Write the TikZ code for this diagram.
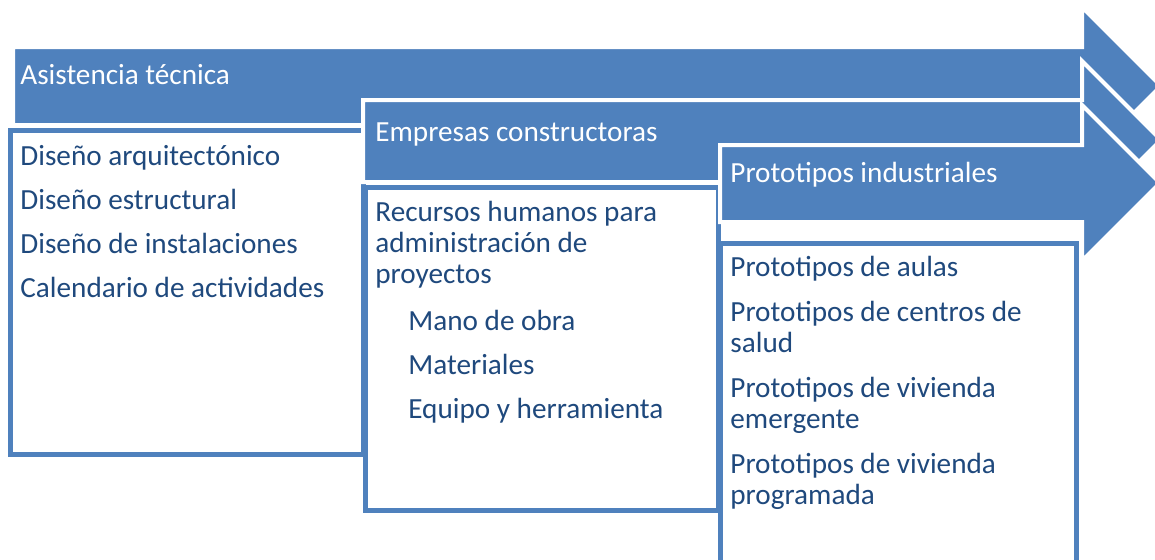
\documentclass[tikz,border=0pt]{standalone}
\usepackage{fontspec}
\setmainfont{Carlito}
\usetikzlibrary{positioning}
\definecolor{bandblue}{RGB}{79,129,189}
\definecolor{itemblue}{RGB}{31,73,125}

\begin{document}
\begin{tikzpicture}[x=0.5pt,y=-0.5pt,font=\fontsize{14.6}{15.5}\selectfont,
  band/.style={fill=bandblue,draw=white,line width=2pt,line join=miter},
  listbox/.style={draw=bandblue,fill=white,line width=2.5pt},
  bandtext/.style={text=white,anchor=base west,inner sep=0pt},
  itemtext/.style={text=itemblue,anchor=base west,inner sep=0pt,align=left}]
\useasboundingbox (0,0) rectangle (1155,559);
\clip (0,0) rectangle (1155,559);
% boxes
\filldraw[listbox] (10,130) rectangle (363,454);
\filldraw[listbox] (365,187) rectangle (718,510);
\filldraw[listbox] (720,243) rectangle (1076,600);
% arrows
\filldraw[band] (13,47) -- (1082,47) -- (1082,7) -- (1161,86) -- (1082,165) -- (1082,125) -- (13,125) -- cycle;
\filldraw[band] (363,100) -- (1082,100) -- (1082,61) -- (1161,140) -- (1082,219) -- (1082,182) -- (363,182) -- cycle;
\filldraw[band] (720,145) -- (1082,145) -- (1082,105) -- (1160,183) -- (1082,261) -- (1082,222) -- (720,222) -- cycle;
% band titles
\node[bandtext] (tasist) at (20,84) {Asistencia técnica};
\node[bandtext] (tempresas) at (375,141) {Empresas constructoras};
\node[bandtext] (tproto) at (730,182) {Prototipos industriales};
% first column
\node[itemtext] (d1) at (20,165) {Diseño arquitectónico};
\node[itemtext] (d2) at (20,209) {Diseño estructural};
\node[itemtext] (d3) at (20,253) {Diseño de instalaciones};
\node[itemtext] (d4) at (20,297) {Calendario de actividades};
% second column (base = last line)
\node[itemtext] (r1) at (375,283) {Recursos humanos para\\administración de\\proyectos};
\node[itemtext] (r2) at (408,330) {Mano de obra};
\node[itemtext] (r3) at (408,374) {Materiales};
\node[itemtext] (r4) at (408,418) {Equipo y herramienta};
% third column
\node[itemtext] (p1) at (730,276) {Prototipos de aulas};
\node[itemtext] (p2) at (730,352) {Prototipos de centros de\\salud};
\node[itemtext] (p3) at (730,428) {Prototipos de vivienda\\emergente};
\node[itemtext] (p4) at (730,504) {Prototipos de vivienda\\programada};
\end{tikzpicture}
\end{document}
